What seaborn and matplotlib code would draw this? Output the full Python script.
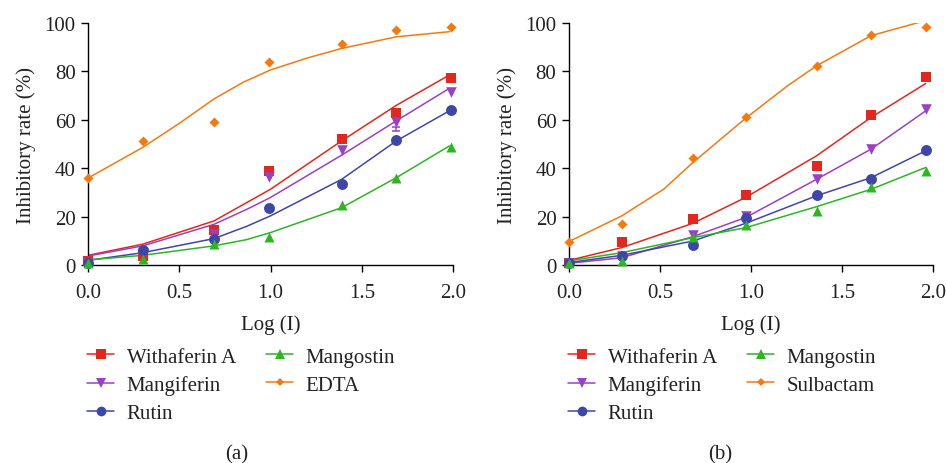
import numpy as np
import pandas as pd
import matplotlib
matplotlib.use("Agg")
import matplotlib.pyplot as plt
import seaborn as sns
from matplotlib.lines import Line2D

sns.set_theme(style="ticks")
plt.rcParams['font.family'] = ['Liberation Serif', 'DejaVu Serif']

series = ["Withaferin A", "Mangiferin", "Rutin", "Mangostin"]
colors = {"Withaferin A": "#E2271E", "Mangiferin": "#9A40C2", "Rutin": "#3F47A6",
          "Mangostin": "#2FB423", "EDTA": "#F47A10", "Sulbactam": "#F47A10"}
markers = {"Withaferin A": "s", "Mangiferin": "v", "Rutin": "o", "Mangostin": "^",
           "EDTA": "D", "Sulbactam": "D"}
msize = {"s": 60, "v": 58, "o": 62, "^": 52, "D": 26}

# ---------------- Panel (a) ----------------
a_x = [0.0, 0.30, 0.69, 0.99, 1.39, 1.69, 1.99]
a_withaferin = [1.7, 3.7, 14.5, 38.9, 52.0, 63.0, 77.2]
a_mangiferin = [1.0, 5.0, 13.0, 36.4, 47.6, 59.2, 71.6]
a_rutin = [0.8, 6.2, 10.9, 23.7, 33.4, 51.7, 64.0]
a_mangostin = [1.0, 2.3, 8.6, 11.7, 24.8, 36.1, 48.6]
a_edta = [36.1, 51.2, 59.0, 84.0, 91.3, 97.1, 98.2]
a_mangiferin_err = [0, 0, 0, 0, 0, 4.0, 0]

a_fit_x = [0.0, 0.30, 0.69, 0.87, 1.0, 1.39, 1.69, 1.98]
a_fit_withaferin = [4.0, 8.6, 18.2, 25.8, 31.3, 51.3, 66.0, 78.5]
a_fit_mangiferin = [3.7, 7.9, 16.8, 23.0, 27.9, 45.4, 59.6, 73.0]
a_fit_rutin = [1.9, 5.1, 10.9, 16.0, 20.3, 35.4, 51.3, 63.7]
a_fit_mangostin = [2.1, 4.0, 7.9, 10.5, 13.4, 23.7, 36.1, 49.2]
a_fit_edta_x = [0.0, 0.30, 0.50, 0.69, 0.85, 1.0, 1.20, 1.39, 1.69, 1.98]
a_fit_edta = [35.9, 48.6, 58.5, 68.6, 75.5, 80.6, 85.5, 89.5, 94.3, 96.4]

# ---------------- Panel (b) ----------------
b_x = [0.0, 0.29, 0.68, 0.97, 1.36, 1.66, 1.96]
b_withaferin = [1.0, 9.5, 18.9, 28.8, 41.0, 61.9, 77.8]
b_mangiferin = [1.0, 3.7, 12.3, 20.3, 35.4, 48.1, 64.4]
b_rutin = [0.8, 3.7, 8.1, 19.3, 29.0, 35.7, 47.4]
b_mangostin = [1.0, 1.7, 11.7, 16.4, 22.3, 32.4, 38.9]
b_sulbactam = [9.5, 17.1, 44.4, 61.0, 82.3, 95.2, 98.2]

b_fit_x = [0.0, 0.29, 0.68, 0.97, 1.36, 1.66, 1.96]
b_fit_withaferin = [1.9, 7.2, 17.2, 27.9, 45.1, 61.0, 75.0]
b_fit_mangiferin = [0.7, 3.0, 11.7, 19.6, 35.4, 47.9, 63.7]
b_fit_rutin = [1.0, 4.0, 9.9, 17.2, 28.6, 36.1, 47.2]
b_fit_mangostin = [1.7, 5.1, 11.3, 15.4, 24.1, 31.3, 40.3]
b_fit_sulbactam_x = [0.0, 0.29, 0.52, 0.68, 0.97, 1.20, 1.36, 1.66, 1.94]
b_fit_sulbactam = [9.7, 20.3, 31.3, 42.3, 60.6, 74.0, 82.3, 94.8, 100.6]

W, H = 947, 464
FS = 15
fig = plt.figure(figsize=(W / 100, H / 100), dpi=100)
axA = fig.add_axes([88 / W, (H - 266) / H, 365 / W, 242 / H])
axB = fig.add_axes([569 / W, (H - 266) / H, 364 / W, 242 / H])


def draw(ax, x, pts, fitx, fits, ref_name, ref_pts, ref_fitx, ref_fit, err=None):
    names = series + [ref_name]
    for name in names:
        if name == ref_name:
            fx, fy, py = ref_fitx, ref_fit, ref_pts
        else:
            fx, fy, py = fitx, fits[name], pts[name]
        df_fit = pd.DataFrame({"x": fx, "y": fy})
        sns.lineplot(data=df_fit, x="x", y="y", ax=ax, color=colors[name],
                     linewidth=1.1, legend=False, sort=True)
        df_pt = pd.DataFrame({"x": x, "y": py})
        mk = markers[name]
        sns.scatterplot(data=df_pt, x="x", y="y", ax=ax, color=colors[name],
                        marker=mk, s=msize[mk], linewidth=0, legend=False,
                        clip_on=False, zorder=5)
        if err is not None and name in err:
            e = err[name]
            idx = [i for i, v in enumerate(e) if v > 0]
            if idx:
                ax.errorbar([x[i] for i in idx], [py[i] - e[i] / 2 for i in idx],
                            yerr=[[e[i] / 2 for i in idx], [0 for i in idx]],
                            fmt="none", ecolor=colors[name], elinewidth=1.1,
                            capsize=3, capthick=1.1, zorder=4)
    ax.set_xlim(0, 2.0)
    ax.set_ylim(0, 100)
    ax.set_xticks([0.0, 0.5, 1.0, 1.5, 2.0])
    ax.set_xticklabels(["0.0", "0.5", "1.0", "1.5", "2.0"])
    ax.set_yticks([0, 20, 40, 60, 80, 100])
    ax.set_xlabel("Log (I)", fontsize=FS, labelpad=9, color="#222222")
    ax.set_ylabel("Inhibitory rate (%)", fontsize=FS, labelpad=6, color="#222222")
    ax.tick_params(axis="both", labelsize=FS, direction="out", length=5, width=1,
                   color="black", labelcolor="#222222")
    ax.tick_params(axis="x", pad=8)
    ax.tick_params(axis="y", pad=4)
    for s in ["top", "right"]:
        ax.spines[s].set_visible(False)
    for s in ["left", "bottom"]:
        ax.spines[s].set_color("black")
        ax.spines[s].set_linewidth(1.0)
    ax.set_facecolor("white")

    handles = []
    for name in names:
        handles.append(Line2D([0], [0], color=colors[name], lw=1.1,
                              marker=markers[name],
                              markersize=(7 if markers[name] != "D" else 4.5),
                              markeredgewidth=0, label=name))
    leg = ax.legend(handles=handles, loc="upper left", bbox_to_anchor=(-0.025, -0.305),
                    ncol=2, frameon=False, fontsize=FS, handlelength=1.3,
                    handletextpad=0.6, columnspacing=1.45, labelspacing=0.4,
                    borderaxespad=0)
    for t in leg.get_texts():
        t.set_color("#222222")


draw(axA, a_x,
     {"Withaferin A": a_withaferin, "Mangiferin": a_mangiferin, "Rutin": a_rutin,
      "Mangostin": a_mangostin},
     a_fit_x,
     {"Withaferin A": a_fit_withaferin, "Mangiferin": a_fit_mangiferin,
      "Rutin": a_fit_rutin, "Mangostin": a_fit_mangostin},
     "EDTA", a_edta, a_fit_edta_x, a_fit_edta,
     err={"Mangiferin": a_mangiferin_err})

draw(axB, b_x,
     {"Withaferin A": b_withaferin, "Mangiferin": b_mangiferin, "Rutin": b_rutin,
      "Mangostin": b_mangostin},
     b_fit_x,
     {"Withaferin A": b_fit_withaferin, "Mangiferin": b_fit_mangiferin,
      "Rutin": b_fit_rutin, "Mangostin": b_fit_mangostin},
     "Sulbactam", b_sulbactam, b_fit_sulbactam_x, b_fit_sulbactam)

fig.text(237 / W, 1 - 455 / H, "(a)", ha="center", va="center", fontsize=FS, color="#222222")
fig.text(720 / W, 1 - 455 / H, "(b)", ha="center", va="center", fontsize=FS, color="#222222")

fig.savefig("out.png", dpi=100, facecolor="white")
